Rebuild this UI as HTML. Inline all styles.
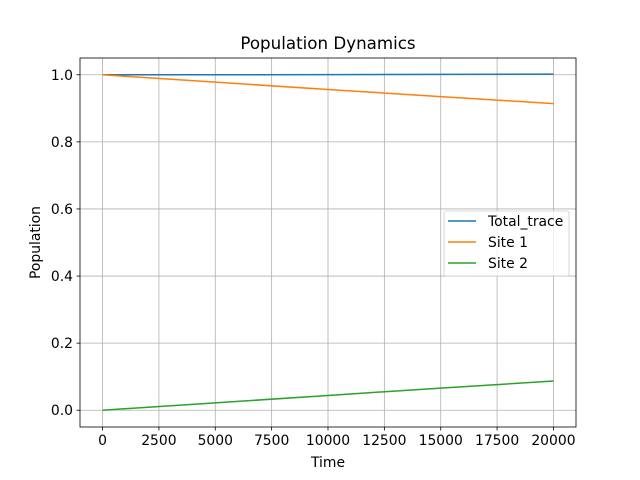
<!DOCTYPE html>
<html><head><meta charset="utf-8"><style>body{margin:0;background:#fff}svg{display:block;font-family:"DejaVu Sans","Liberation Sans",sans-serif}</style></head>
<body>
<svg id="c" width="640" height="480"></svg>
<script>
const times=[0,5000,10000,15000,20000];
const totalTrace=[1.0,1.0,1.0005,1.001,1.002];
const site1=[1.0,0.978,0.956,0.935,0.914];
const site2=[0.0,0.022,0.044,0.066,0.087];
const xTicks=[0,2500,5000,7500,10000,12500,15000,17500,20000];
const yTicks=[0.0,0.2,0.4,0.6,0.8,1.0];
const seriesNames=["Total_trace","Site 1","Site 2"];
const colors=["#1f77b4","#ff7f0e","#2ca02c"];
const L=80,R=576,T=58,B=427;
const sx=v=>L+(v+1000)/22000*(R-L);
const sy=v=>B-(v+0.05)/1.1*(B-T);
const svg=document.getElementById('c');const NS='http://www.w3.org/2000/svg';
function mk(t,a,p){const e=document.createElementNS(NS,t);for(const k in a)e.setAttribute(k,a[k]);(p||svg).appendChild(e);return e;}
xTicks.forEach(v=>{const x=sx(v);
const g=mk('line',{x1:x,x2:x,y1:T,y2:B,stroke:'#b0b0b0','stroke-width':0.8});

mk('line',{x1:x,x2:x,y1:B,y2:B+3.5,stroke:'#000','stroke-width':0.8});
const t=mk('text',{x:x,y:B+18,'text-anchor':'middle','font-size':13.9});t.textContent=v;
});
yTicks.forEach(v=>{const y=sy(v);
const g=mk('line',{x1:L,x2:R,y1:y,y2:y,stroke:'#b0b0b0','stroke-width':0.8});

mk('line',{x1:L-3.5,x2:L,y1:y,y2:y,stroke:'#000','stroke-width':0.8});
const t=mk('text',{x:L-7,y:y+5,'text-anchor':'end','font-size':13.9});t.textContent=v.toFixed(1);
});
[totalTrace,site1,site2].forEach((s,i)=>{
const p=mk('polyline',{points:times.map((t,j)=>sx(t)+','+sy(s[j])).join(' '),fill:'none',stroke:colors[i],'stroke-width':1.5});

});
const fr=mk('rect',{x:L,y:T,width:R-L,height:B-T,fill:'none',stroke:'#000','stroke-width':0.8});

const tt=mk('text',{x:(L+R)/2,y:T-9,'text-anchor':'middle','font-size':16.7});tt.textContent='Population Dynamics';

const xl=mk('text',{x:(L+R)/2,y:467,'text-anchor':'middle','font-size':13.9});xl.textContent='Time';

const yl=mk('text',{x:40,y:(T+B)/2,'text-anchor':'middle','font-size':13.9,transform:'rotate(-90 40 '+(T+B)/2+')'});yl.textContent='Population';

const lg=mk('g',{});
mk('rect',{x:444,y:211,width:125,height:65,rx:2,fill:'#fff','fill-opacity':0.8,stroke:'#ccc','stroke-width':0.8},lg);
seriesNames.forEach((n,i)=>{const y=221+i*21;
mk('line',{x1:448,x2:476,y1:y,y2:y,stroke:colors[i],'stroke-width':1.5},lg);
const t=mk('text',{x:488,y:y+5,'font-size':13.9},lg);t.textContent=n;
});
</script>
</body></html>
